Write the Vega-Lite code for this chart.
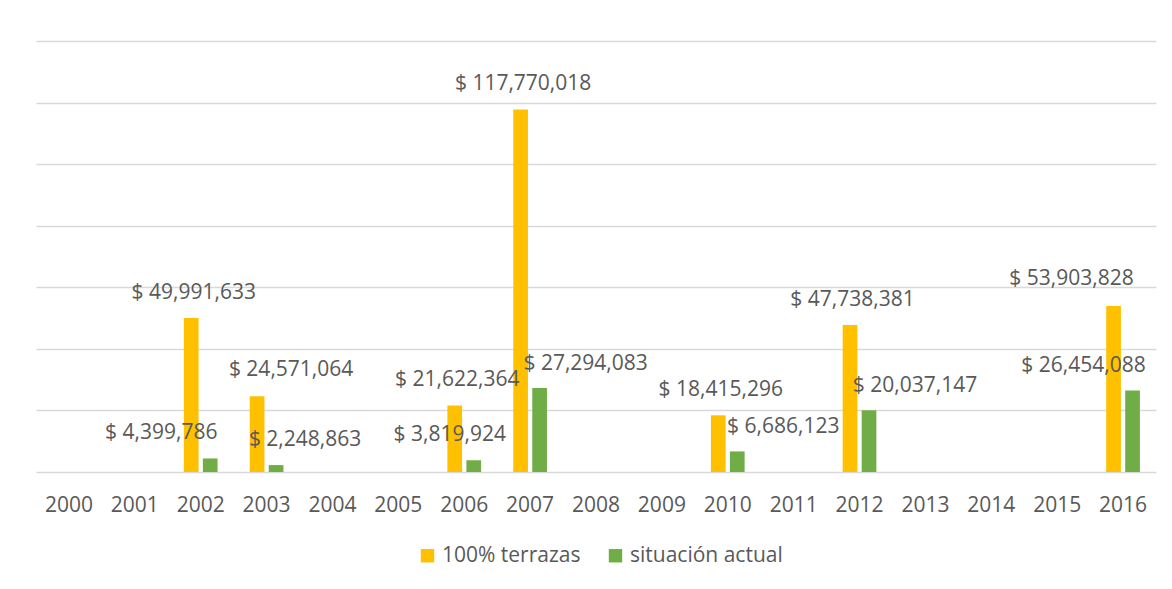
{
  "$schema": "https://vega.github.io/schema/vega-lite/v6.json",
  "width": 1120,
  "height": 431,
  "autosize": "none",
  "padding": {"left": 36, "top": 41, "right": 16, "bottom": 117},
  "background": "white",
  "config": {
    "view": {"stroke": null},
    "font": "Open Sans",
    "locale": {
      "number": {"decimal": ".", "thousands": ",", "grouping": [3], "currency": ["$ ", ""]}
    }
  },
  "data": {
    "values": [
      {"year": "2002", "serie": "100% terrazas", "value": 49991633},
      {"year": "2002", "serie": "situación actual", "value": 4399786},
      {"year": "2003", "serie": "100% terrazas", "value": 24571064},
      {"year": "2003", "serie": "situación actual", "value": 2248863},
      {"year": "2006", "serie": "100% terrazas", "value": 21622364},
      {"year": "2006", "serie": "situación actual", "value": 3819924},
      {"year": "2007", "serie": "100% terrazas", "value": 117770018},
      {"year": "2007", "serie": "situación actual", "value": 27294083},
      {"year": "2010", "serie": "100% terrazas", "value": 18415296},
      {"year": "2010", "serie": "situación actual", "value": 6686123},
      {"year": "2012", "serie": "100% terrazas", "value": 47738381},
      {"year": "2012", "serie": "situación actual", "value": 20037147},
      {"year": "2016", "serie": "100% terrazas", "value": 53903828},
      {"year": "2016", "serie": "situación actual", "value": 26454088}
    ]
  },
  "encoding": {
    "x": {
      "field": "year",
      "type": "nominal",
      "scale": {
        "domain": ["2000","2001","2002","2003","2004","2005","2006","2007","2008","2009","2010","2011","2012","2013","2014","2015","2016"],
        "paddingInner": 0,
        "paddingOuter": 0
      },
      "axis": {
        "title": null,
        "labelAngle": 0,
        "labelFontSize": 21,
        "labelColor": "#595959",
        "ticks": false,
        "domain": false,
        "labelPadding": 22
      }
    },
    "xOffset": {
      "field": "serie",
      "type": "nominal",
      "scale": {"domain": ["100% terrazas", "situación actual"], "paddingInner": 0.226, "paddingOuter": 0.847}
    },
    "y": {
      "field": "value",
      "type": "quantitative",
      "scale": {"domain": [0, 140000000], "nice": false},
      "axis": {
        "title": null,
        "labels": false,
        "ticks": false,
        "domain": false,
        "grid": true,
        "values": [0, 20000000, 40000000, 60000000, 80000000, 100000000, 120000000, 140000000],
        "gridColor": "#D9D9D9",
        "gridWidth": 1.3
      }
    }
  },
  "layer": [
    {
      "mark": {"type": "bar"},
      "encoding": {
        "color": {
          "field": "serie",
          "type": "nominal",
          "scale": {"domain": ["100% terrazas", "situación actual"], "range": ["#FFC000", "#70AD47"]},
          "legend": {
            "orient": "none",
            "legendX": 381,
            "legendY": 504,
            "direction": "horizontal",
            "title": null,
            "symbolType": "square",
            "symbolSize": 180,
            "symbolStrokeWidth": 0,
            "symbolOpacity": 1,
            "labelFontSize": 21,
            "labelColor": "#595959",
            "labelOffset": 4,
            "columnPadding": 24,
            "padding": 0
          }
        }
      }
    },
    {
      "transform": [{"filter": {"and": [{"field": "serie", "equal": "100% terrazas"}, {"field": "year", "oneOf": ["2002", "2006", "2007", "2010", "2012"]}]}}],
      "mark": {"type": "text", "fontSize": 21, "color": "#595959", "baseline": "middle", "dx": 2.5, "dy": -25},
      "encoding": {"text": {"field": "value", "type": "quantitative", "format": "$,.0f"}}
    },
    {
      "transform": [{"filter": {"and": [{"field": "serie", "equal": "100% terrazas"}, {"field": "year", "oneOf": ["2003"]}]}}],
      "mark": {"type": "text", "fontSize": 21, "color": "#595959", "baseline": "middle", "dx": 34, "dy": -26},
      "encoding": {"text": {"field": "value", "type": "quantitative", "format": "$,.0f"}}
    },
    {
      "transform": [{"filter": {"and": [{"field": "serie", "equal": "100% terrazas"}, {"field": "year", "oneOf": ["2016"]}]}}],
      "mark": {"type": "text", "fontSize": 21, "color": "#595959", "baseline": "middle", "dx": -42, "dy": -27},
      "encoding": {"text": {"field": "value", "type": "quantitative", "format": "$,.0f"}}
    },
    {
      "transform": [{"filter": {"and": [{"field": "serie", "equal": "situación actual"}, {"field": "year", "oneOf": ["2002", "2016"]}]}}],
      "mark": {"type": "text", "fontSize": 21, "color": "#595959", "baseline": "middle", "dx": -49, "dy": -25},
      "encoding": {"text": {"field": "value", "type": "quantitative", "format": "$,.0f"}}
    },
    {
      "transform": [{"filter": {"and": [{"field": "serie", "equal": "situación actual"}, {"field": "year", "oneOf": ["2006"]}]}}],
      "mark": {"type": "text", "fontSize": 21, "color": "#595959", "baseline": "middle", "dx": -24, "dy": -25},
      "encoding": {"text": {"field": "value", "type": "quantitative", "format": "$,.0f"}}
    },
    {
      "transform": [{"filter": {"and": [{"field": "serie", "equal": "situación actual"}, {"field": "year", "oneOf": ["2003"]}]}}],
      "mark": {"type": "text", "fontSize": 21, "color": "#595959", "baseline": "middle", "dx": 29, "dy": -25},
      "encoding": {"text": {"field": "value", "type": "quantitative", "format": "$,.0f"}}
    },
    {
      "transform": [{"filter": {"and": [{"field": "serie", "equal": "situación actual"}, {"field": "year", "oneOf": ["2007", "2010", "2012"]}]}}],
      "mark": {"type": "text", "fontSize": 21, "color": "#595959", "baseline": "middle", "dx": 46, "dy": -24},
      "encoding": {"text": {"field": "value", "type": "quantitative", "format": "$,.0f"}}
    }
  ]
}
